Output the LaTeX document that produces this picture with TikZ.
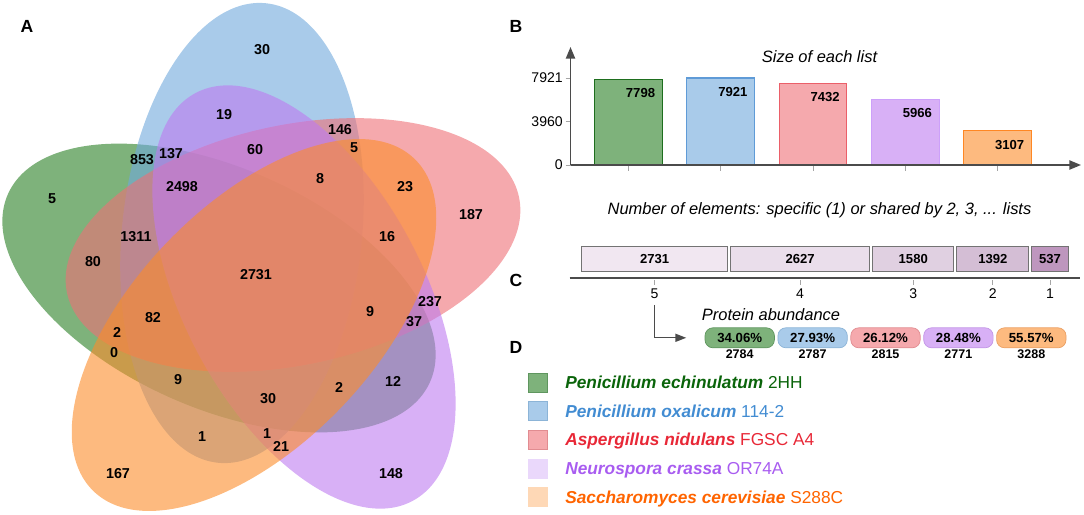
\documentclass[tikz,border=0pt]{standalone}
\usepackage{fontspec}
\setmainfont{Liberation Sans}
\usetikzlibrary{arrows.meta}
\definecolor{setgreen}{RGB}{40,127,35}
\definecolor{setblue}{RGB}{112,168,220}
\definecolor{setred}{RGB}{238,112,118}
\definecolor{setpurple}{RGB}{190,123,240}
\definecolor{setorange}{RGB}{252,140,42}
\definecolor{lgreen}{RGB}{126,178,123}
\definecolor{lblue}{RGB}{169,203,234}
\definecolor{lred}{RGB}{245,169,173}
\definecolor{lpurple}{RGB}{216,176,246}
\definecolor{lorange}{RGB}{253,186,127}
\definecolor{bgreen}{RGB}{30,110,30}
\definecolor{bblue}{RGB}{95,155,215}
\definecolor{bred}{RGB}{235,95,105}
\definecolor{bpurple}{RGB}{205,160,250}
\definecolor{borange}{RGB}{255,135,35}
\definecolor{pgreen}{RGB}{95,150,95}
\definecolor{pblue}{RGB}{140,180,215}
\definecolor{pred}{RGB}{225,140,145}
\definecolor{ppurple}{RGB}{195,150,230}
\definecolor{porange}{RGB}{235,160,100}
\definecolor{kgreen}{RGB}{234,216,251}
\definecolor{kpurple}{RGB}{234,216,251}
\definecolor{korange}{RGB}{254,216,182}
\definecolor{tgreen}{RGB}{10,100,10}
\definecolor{tblue}{RGB}{66,140,210}
\definecolor{tred}{RGB}{232,40,55}
\definecolor{tpurple}{RGB}{168,92,240}
\definecolor{torange}{RGB}{255,100,0}
\definecolor{cbox1}{RGB}{241,231,241}
\definecolor{cbox2}{RGB}{234,222,235}
\definecolor{cbox3}{RGB}{224,208,225}
\definecolor{cbox4}{RGB}{212,190,213}
\definecolor{cbox5}{RGB}{190,150,190}
\definecolor{boxgray}{RGB}{115,115,115}
\definecolor{axisgray}{RGB}{75,75,75}
\definecolor{tickgray}{RGB}{165,165,165}
\newcommand*{\vennnum}{\fontsize{10.2}{12}\selectfont\bfseries}
\newcommand*{\paneltag}{\fontsize{12.5}{14}\selectfont\bfseries}
\newcommand*{\charttitle}{\fontsize{11.7}{14}\selectfont\itshape}
\newcommand*{\barnum}{\fontsize{9.3}{11}\selectfont\bfseries}
\newcommand*{\ticknum}{\fontsize{10}{12}\selectfont}
\newcommand*{\legendtext}{\fontsize{12.3}{14}\selectfont}
\tikzset{
  panel/.style={font=\paneltag, inner sep=0pt},
  vnum/.style={font=\vennnum, inner sep=0pt},
  ctitle/.style={font=\charttitle, inner sep=0pt},
  barlabel/.style={font=\barnum, inner sep=0pt},
  ticklab/.style={font=\ticknum, inner sep=0pt},
  chartaxis/.style={axisgray, line width=1.1pt},
  pill/.style={rounded corners=0.2cm, minimum width=1.735cm, minimum height=0.5cm,
    inner sep=0pt, line width=0.5pt, font=\fontsize{9.4}{11}\selectfont\bfseries},
  pillnum/.style={font=\fontsize{8.9}{10}\selectfont\bfseries, inner sep=0pt},
  legbox/.style={minimum size=0.475cm, inner sep=0pt, line width=0.4pt},
  legtext/.style={font=\legendtext, inner sep=0pt}
}

\begin{document}
\begin{tikzpicture}[x=0.025cm, y=-0.025cm]
\useasboundingbox (0,0) rectangle (1084,514);

% five sets
\foreach \cx/\cy/\ang/\col in {219/288/156/setgreen, 242/233/84/setblue,
    293/245/12/setred, 304/297/298/setpurple, 254/325/226/setorange}{
  \fill[\col, fill opacity=0.6, rotate around={\ang:(\cx,\cy)}] (\cx,\cy) ellipse (231 and 120);
}

\foreach \x/\y/\t [count=\n] in {262/50/30, 224/115/19, 340/130/146, 354/148/5,
    142/160/853, 171/154/137, 255/150/60, 320/179/8, 405/187/23, 471/215/187,
    52/199/5, 182/187/2498, 136/237/1311, 387/237/16, 93/262/80, 256/275/2731,
    430/302/237, 370/312/9, 414/322/37, 153/318/82, 117/332/2, 114/353/0,
    178/380/9, 339/387/2, 393/381/12, 268/399/30, 202/437/1, 267/434/1,
    281/446/21, 118/474/167, 391/474/148}
  \node[vnum] (v\n) at (\x,\y) {\t};

\node[panel] (tagA) at (27,26) {A};
\node[panel] (tagB) at (516,26) {B};
\node[panel] (tagC) at (516,280) {C};
\node[panel] (tagD) at (516,347) {D};

% size of each list
\node[ctitle] (sizetitle) at (819.5,56.7) {Size of each list};
\foreach \v/\fc/\dc [count=\i] in {7798/lgreen/bgreen, 7921/lblue/bblue,
    7432/lred/bred, 5966/lpurple/bpurple, 3107/lorange/borange}{
  \pgfmathsetmacro{\xl}{594.5+92.3*(\i-1)}
  \pgfmathsetmacro{\yt}{165-\v*0.01098}
  \draw[fill=\fc, draw=\dc, line width=0.8pt] (\xl,165) rectangle (\xl+67.7,\yt);
  \node[barlabel] (bv\i) at (\xl+46,\yt+14) {\v};
  \draw[tickgray, line width=0.6pt] (\xl+33.85,166) -- (\xl+33.85,171);
}
\foreach \h/\t [count=\i] in {87/7921, 43.5/3960, 0/0}{
  \draw[tickgray, line width=0.6pt] (565.5,165-\h) -- (570.5,165-\h);
  \node[ticklab, anchor=east] (yt\i) at (563,165-\h) {\t};
}
\coordinate (origin) at (570.5,165);
\coordinate (ytop) at (570.5,47);
\coordinate (xend) at (1081,165);
\draw[chartaxis, -{Triangle[length=0.29cm, width=0.23cm]}] (origin) -- (ytop);
\draw[chartaxis, -{Triangle[length=0.29cm, width=0.23cm]}] (origin) -- (xend);

% shared elements
\node[ctitle] (sharetitle) at (819.5,210) {Number of elements: specific (1) or shared by 2, 3, ... lists};
\foreach \xa/\xb/\v [count=\i] in {581.7/727.5/2731, 730.3/869.9/2627,
    872.6/953.9/1580, 956.7/1028.9/1392, 1031.3/1068.8/537}{
  \pgfmathtruncatemacro{\k}{6-\i}
  \draw[fill=cbox\i, draw=boxgray, line width=0.6pt] (\xa,246.7) rectangle (\xb,271.7);
  \node[barlabel] (cb\i) at ({(\xa+\xb)/2},259.2) {\v};
  \draw[tickgray, line width=0.6pt] ({(\xa+\xb)/2},280) -- ++(0,5);
  \node[ticklab] (ct\k) at ({(\xa+\xb)/2},294) {\k};
}
\draw[axisgray, line width=1.4pt] (569.5,278.3) -- (1080,278.3);

% abundance
\node[ctitle] (abundance) at (771,315) {Protein abundance};
\foreach \p/\n/\fc/\dc [count=\i] in {34.06/2784/lgreen/pgreen, 27.93/2787/lblue/pblue,
    26.12/2815/lred/pred, 28.48/2771/lpurple/ppurple, 55.57/3288/lorange/porange}{
  \node[pill, fill=\fc, draw=\dc] (pill\i) at ({739.7+72.9*(\i-1)},337.8) {\p\%};
  \node[pillnum, anchor=north] (pn\i) at ([yshift=-0.04cm]pill\i.south) {\n};
}
\draw[axisgray, line width=0.9pt, -{Triangle[length=0.27cm, width=0.2cm]},
  shorten <=0.14cm, shorten >=0.46cm] (ct5.south) |- (pill1.west);

% legend
\foreach \sp/\st/\fc/\dc/\tc [count=\i] in {
    Penicillium echinulatum/2HH/lgreen/pgreen/tgreen,
    Penicillium oxalicum/114-2/lblue/pblue/tblue,
    Aspergillus nidulans/FGSC A4/lred/pred/tred,
    Neurospora crassa/OR74A/kpurple/kpurple/tpurple,
    Saccharomyces cerevisiae/S288C/korange/korange/torange}{
  \pgfmathsetmacro{\yy}{382.5+28.6*(\i-1)}
  \node[legbox, fill=\fc, draw=\dc] (lb\i) at (537.5,\yy) {};
  \node[legtext, text=\tc, anchor=base west] (lt\i) at (565,\yy+6.2) {\textbf{\textit{\sp}} \st};
}
\end{tikzpicture}
\end{document}
